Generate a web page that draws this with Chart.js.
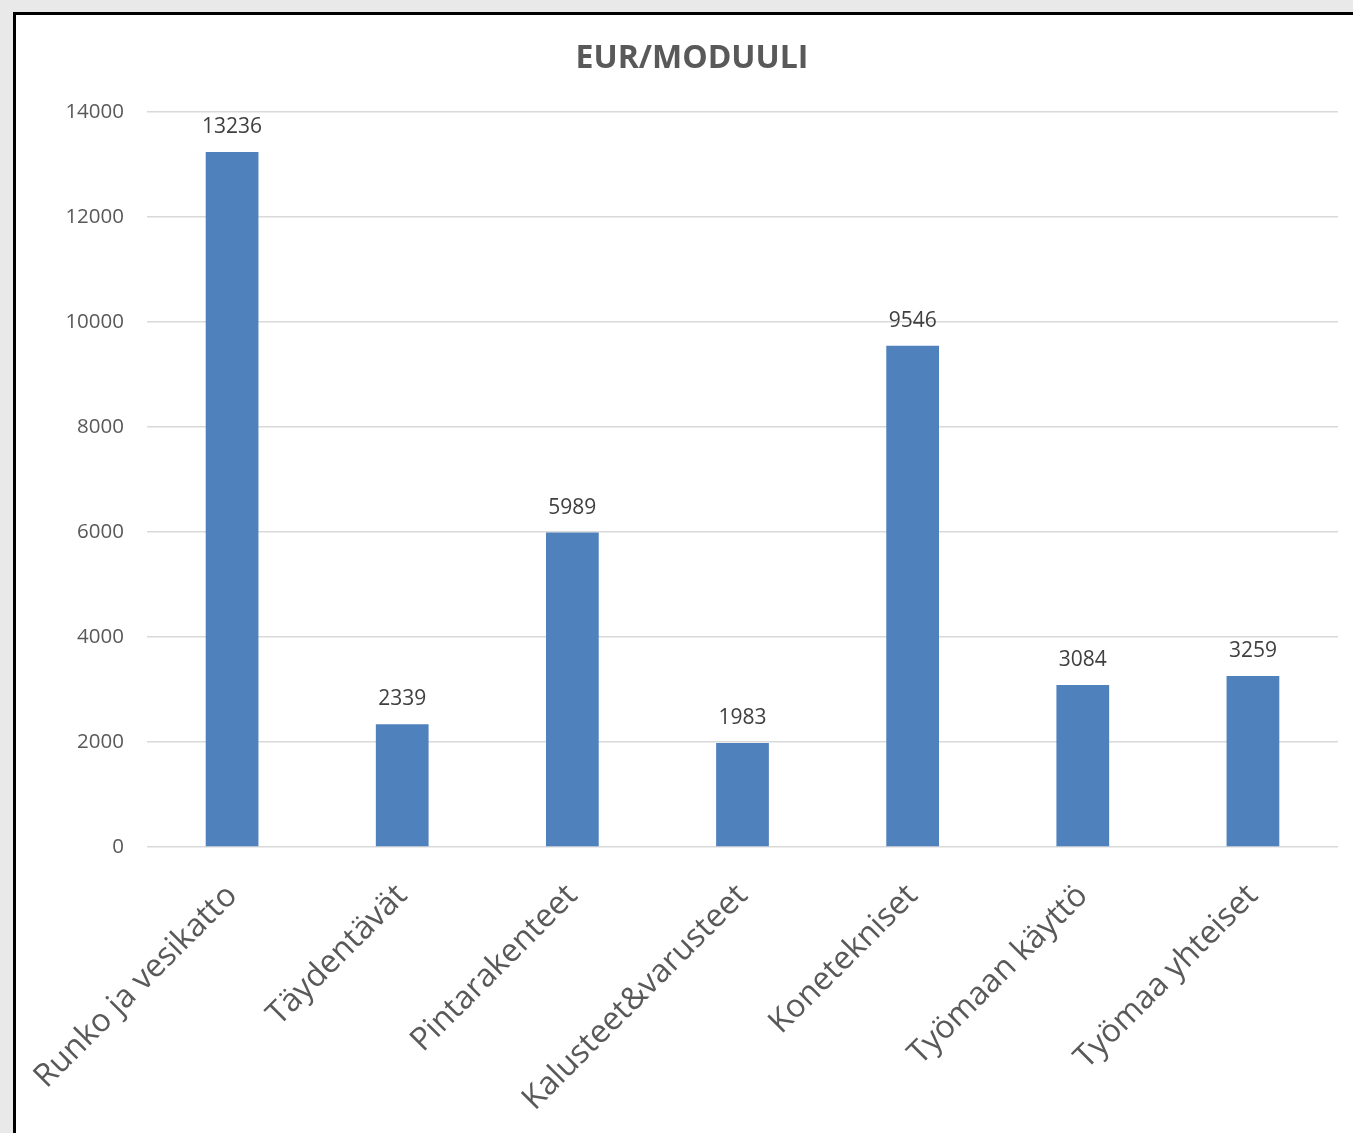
<!DOCTYPE html>
<html>
<head>
<meta charset="utf-8">
<script src="https://cdn.jsdelivr.net/npm/chart.js@4.4.0/dist/chart.umd.min.js"></script>
<style>
  html, body { margin: 0; padding: 0; background: #e9e9e9; overflow: hidden; }
  #frame {
    position: absolute; left: 13px; top: 12px; width: 1400px; height: 1200px;
    background: #fff; border-left: 3px solid #000; border-top: 3px solid #000;
  }
  #wrap { position: absolute; left: 0; top: 0; width: 1353px; height: 1133px; }
</style>
</head>
<body>
<div id="frame"></div>
<div id="wrap"><canvas id="chart"></canvas></div>
<script>
const categories = [
  "Runko ja vesikatto",
  "Täydentävät",
  "Pintarakenteet",
  "Kalusteet&varusteet",
  "Konetekniset",
  "Työmaan käyttö",
  "Työmaa yhteiset",
];
const values = [13236, 2339, 5989, 1983, 9546, 3084, 3259];
const yTicks = [0, 2000, 4000, 6000, 8000, 10000, 12000, 14000];
const chartTitle = "EUR/MODUULI";

const FONT = "'Open Sans', 'DejaVu Sans', sans-serif";

// draws the value above each bar
const valueLabels = {
  id: "valueLabels",
  afterDatasetsDraw(chart) {
    const ctx = chart.ctx;
    const meta = chart.getDatasetMeta(0);
    ctx.save();
    ctx.font = "21px " + FONT;
    ctx.fillStyle = "#404040";
    ctx.textAlign = "center";
    ctx.textBaseline = "middle";
    meta.data.forEach((bar, i) => {
      ctx.fillText(String(values[i]), bar.x, bar.y - 25);
    });
    ctx.restore();
  },
};

// title centred on the white frame rather than the canvas
const frameTitle = {
  id: "frameTitle",
  afterDraw(chart) {
    const ctx = chart.ctx;
    ctx.save();
    ctx.font = "bold 32px " + FONT;
    ctx.fillStyle = "#595959";
    ctx.textAlign = "center";
    ctx.textBaseline = "middle";
    ctx.fillText(chartTitle, chart.width / 2 + 15.5, 59);
    ctx.restore();
  },
};

const data = {
  labels: categories,
  datasets: [
    {
      label: chartTitle,
      data: values,
      backgroundColor: "#4f81bd",
      categoryPercentage: 1,
      barPercentage: 0.31,
    },
  ],
};

const options = {
  responsive: true,
  maintainAspectRatio: false,
  animation: false,
  layout: { padding: { left: 0, right: 15, top: 112, bottom: 0 } },
  plugins: {
    legend: { display: false },
    tooltip: { enabled: false },
    title: { display: false },
  },
  scales: {
    x: {
      grid: { display: false },
      border: { display: false },
      ticks: {
        color: "#595959",
        font: { family: FONT, size: 32 },
        minRotation: 45,
        maxRotation: 45,
        padding: 22,
      },
      afterFit(scale) {
        scale.height = 1133 - 847;
      },
    },
    y: {
      min: 0,
      max: 14000,
      border: { display: false },
      grid: { color: "#d9d9d9", lineWidth: 1.5, drawTicks: false },
      afterBuildTicks(scale) {
        scale.ticks = yTicks.map((v) => ({ value: v }));
      },
      ticks: {
        color: "#595959",
        font: { family: FONT, size: 20.5 },
        padding: 23,
        callback: (v) => String(v),
      },
      afterFit(scale) {
        scale.width = 147;
      },
    },
  },
};

const chart = new Chart(document.getElementById("chart"), {
  type: "bar",
  data: data,
  options: options,
  plugins: [valueLabels, frameTitle],
});
</script>
</body>
</html>
